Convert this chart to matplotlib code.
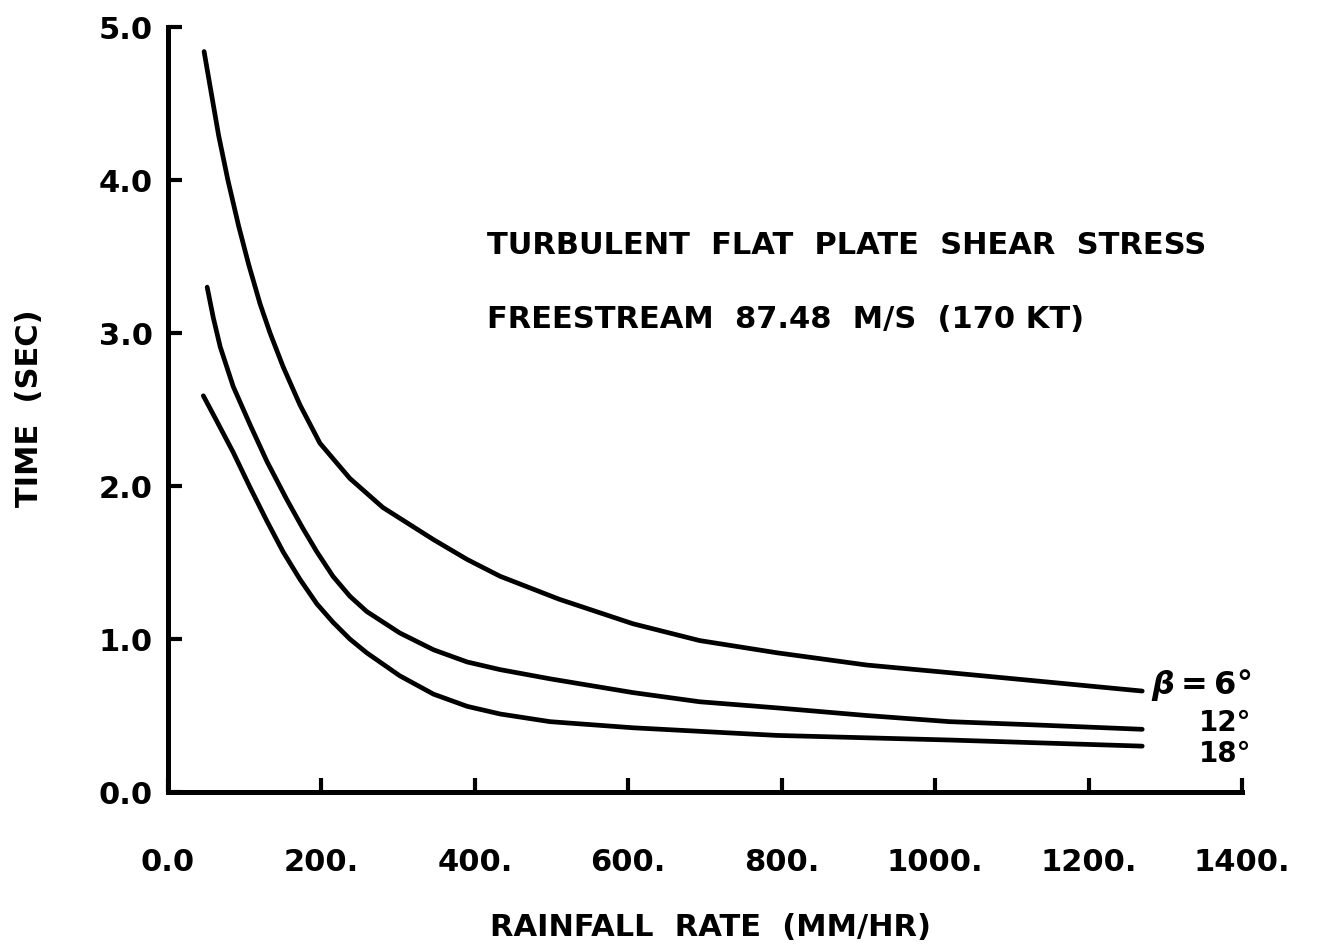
import matplotlib
matplotlib.use("Agg")
import matplotlib.pyplot as plt

# Time to reach threshold vs rainfall rate, one curve per plate angle beta
x_b6 = [47, 57, 66, 78, 92, 105, 120, 133, 150, 172, 198, 237, 280, 346, 390,
        433, 510, 606, 693, 794, 911, 1019, 1124, 1270]
t_b6 = [4.84, 4.55, 4.29, 4.00, 3.70, 3.45, 3.19, 3.00, 2.78, 2.53, 2.28, 2.05,
        1.86, 1.65, 1.52, 1.41, 1.26, 1.10, 0.99, 0.91, 0.83, 0.78, 0.73, 0.66]

x_b12 = [51, 59, 68, 85, 107, 129, 155, 175, 194, 215, 237, 259, 302, 346, 390,
         433, 498, 606, 693, 794, 911, 1019, 1124, 1270]
t_b12 = [3.30, 3.10, 2.91, 2.65, 2.40, 2.16, 1.91, 1.73, 1.57, 1.41, 1.28, 1.18,
         1.04, 0.93, 0.85, 0.80, 0.74, 0.65, 0.59, 0.55, 0.50, 0.46, 0.44, 0.41]

x_b18 = [46, 64, 85, 107, 129, 150, 172, 194, 215, 237, 259, 302, 346, 390,
         433, 498, 606, 794, 1019, 1270]
t_b18 = [2.59, 2.42, 2.22, 1.99, 1.77, 1.57, 1.39, 1.23, 1.11, 1.00, 0.91, 0.76,
         0.64, 0.56, 0.51, 0.46, 0.42, 0.37, 0.34, 0.30]

x_ticks = [0, 200, 400, 600, 800, 1000, 1200, 1400]
x_ticklabels = ["0.0", "200.", "400.", "600.", "800.", "1000.", "1200.", "1400."]
y_ticks = [0, 1, 2, 3, 4, 5]
y_ticklabels = ["0.0", "1.0", "2.0", "3.0", "4.0", "5.0"]

plt.rcParams["font.family"] = ["DejaVu Sans"]
plt.rcParams["font.weight"] = "bold"
plt.rcParams["mathtext.default"] = "it"

fig = plt.figure(figsize=(13.18, 9.49), dpi=100)
ax = fig.add_axes([0.1275, 0.1654, 0.8148, 0.8061])

for xs, ts in [(x_b6, t_b6), (x_b12, t_b12), (x_b18, t_b18)]:
    ax.plot(xs, ts, color="black", linewidth=3.4, solid_capstyle="round",
            solid_joinstyle="round")

ax.set_xlim(0, 1400)
ax.set_ylim(0, 5)
ax.set_xticks(x_ticks)
ax.set_xticklabels(x_ticklabels)
ax.set_yticks(y_ticks)
ax.set_yticklabels(y_ticklabels)

for side in ["top", "right"]:
    ax.spines[side].set_visible(False)
for side in ["left", "bottom"]:
    ax.spines[side].set_linewidth(3.6)
    ax.spines[side].set_capstyle("projecting")

ax.tick_params(axis="both", direction="in", length=10, width=3.0,
               labelsize=22)
ax.tick_params(axis="x", pad=40)
ax.tick_params(axis="y", pad=11)

# annotations
ax.text(416, 3.57, "TURBULENT  FLAT  PLATE  SHEAR  STRESS", fontsize=22,
        va="center", ha="left")
ax.text(416, 3.09, "FREESTREAM  87.48  M/S  (170 KT)", fontsize=22,
        va="center", ha="left")

ax.text(1412, 0.70, "$\\beta$\u2009=\u20096°", fontsize=23, va="center",
        ha="right", clip_on=False)
ax.text(1412, 0.45, "12°", fontsize=20, va="center", ha="right", clip_on=False)
ax.text(1412, 0.25, "18°", fontsize=20, va="center", ha="right", clip_on=False)

fig.text(710 / 1318, 1 - 927 / 949, "RAINFALL  RATE  (MM/HR)", fontsize=22,
         ha="center", va="center")
fig.text(30 / 1318, 1 - 408 / 949, "TIME  (SEC)", fontsize=22, rotation=90,
         ha="center", va="center")

fig.savefig("out.png", dpi=100)
